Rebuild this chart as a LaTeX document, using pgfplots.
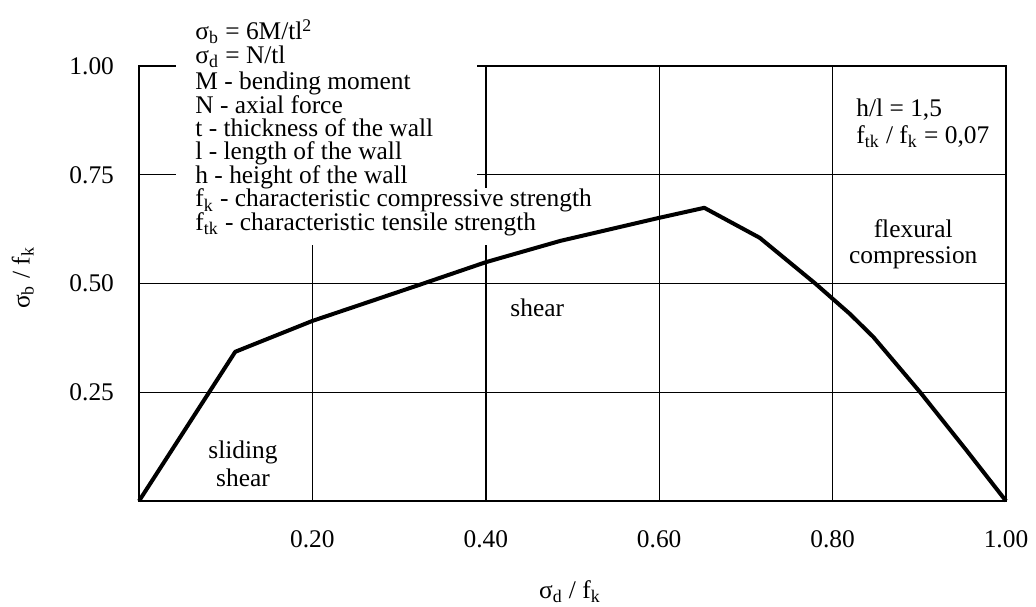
\documentclass[border=0pt]{standalone}
\usepackage{fontspec}
\setmainfont{Liberation Serif}
\usepackage{pgfplots}
\pgfplotsset{compat=1.18}

\begin{document}
\begin{tikzpicture}[font=\fontsize{12.7}{15}\selectfont,
    txt/.style={anchor=base west, inner sep=0pt}]
\begin{axis}[
    scale only axis,
    width=433.5pt, height=217.5pt,
    xmin=0, xmax=1,
    ymin=0, ymax=1,
    xtick={0.2,0.4,0.6,0.8,1},
    ytick={0.25,0.5,0.75,1},
    /pgf/number format/assume math mode=true,
    /pgf/number format/.cd, fixed, zerofill, precision=2, /pgfplots/.cd,
    major tick length=0pt,
    grid=major,
    major grid style={black, line width=0.7pt},
    axis line style={black, line width=1pt},
    xticklabel style={anchor=base, yshift=-23pt},
    yticklabel style={anchor=east, xshift=-9pt},
    xlabel={σ\textsubscript{d} / f\textsubscript{k}},
    ylabel={σ\textsubscript{b} / f\textsubscript{k}},
    every axis x label/.style={at={(axis description cs:0.497,-0.209)}, anchor=center},
    every axis y label/.style={at={(axis description cs:-0.134,0.513)}, rotate=90, anchor=center},
    clip=false,
]
% white panel behind the notation list
\fill[white] (axis cs:0.043,0.589) rectangle (axis cs:0.390,1.03);
\fill[white] (axis cs:0.043,0.589) rectangle (axis cs:0.52,0.72);

\addplot[black, line width=2pt, line join=round] coordinates {
    (0,0) (0.111,0.343) (0.2,0.414) (0.328,0.5) (0.4,0.549) (0.486,0.598)
    (0.6,0.651) (0.652,0.674) (0.716,0.605) (0.78,0.5) (0.8,0.465)
    (0.82,0.43) (0.847,0.377) (0.901,0.25) (0.955,0.115) (1,0)
};

\node[txt] at (axis cs:0.0646,1.060) {σ\textsubscript{b} = 6M/tl\textsuperscript{2}};
\node[txt] at (axis cs:0.0646,1.005) {σ\textsubscript{d} = N/tl};
\node[txt] at (axis cs:0.0646,0.945) {M - bending moment};
\node[txt] at (axis cs:0.0646,0.891) {N - axial force};
\node[txt] at (axis cs:0.0646,0.837) {t - thickness of the wall};
\node[txt] at (axis cs:0.0646,0.784) {l - length of the wall};
\node[txt] at (axis cs:0.0646,0.730) {h - height of the wall};
\node[txt] at (axis cs:0.0646,0.676) {f\textsubscript{k} - characteristic compressive strength};
\node[txt] at (axis cs:0.0646,0.622) {f\textsubscript{tk} - characteristic tensile strength};

\node[txt] at (axis cs:0.827,0.884) {h/l = 1,5};
\node[txt] at (axis cs:0.827,0.821) {f\textsubscript{tk} / f\textsubscript{k} = 0,07};

\node[anchor=base] at (axis cs:0.893,0.605) {flexural};
\node[anchor=base] at (axis cs:0.893,0.547) {compression};
\node[txt] at (axis cs:0.428,0.425) {shear};
\node[anchor=base] at (axis cs:0.12,0.0966) {sliding};
\node[anchor=base] at (axis cs:0.12,0.0345) {shear};
\end{axis}
\pgfresetboundingbox
\path (-69.5pt,-52.5pt) rectangle (448.5pt,250.5pt);
\end{tikzpicture}
\end{document}
